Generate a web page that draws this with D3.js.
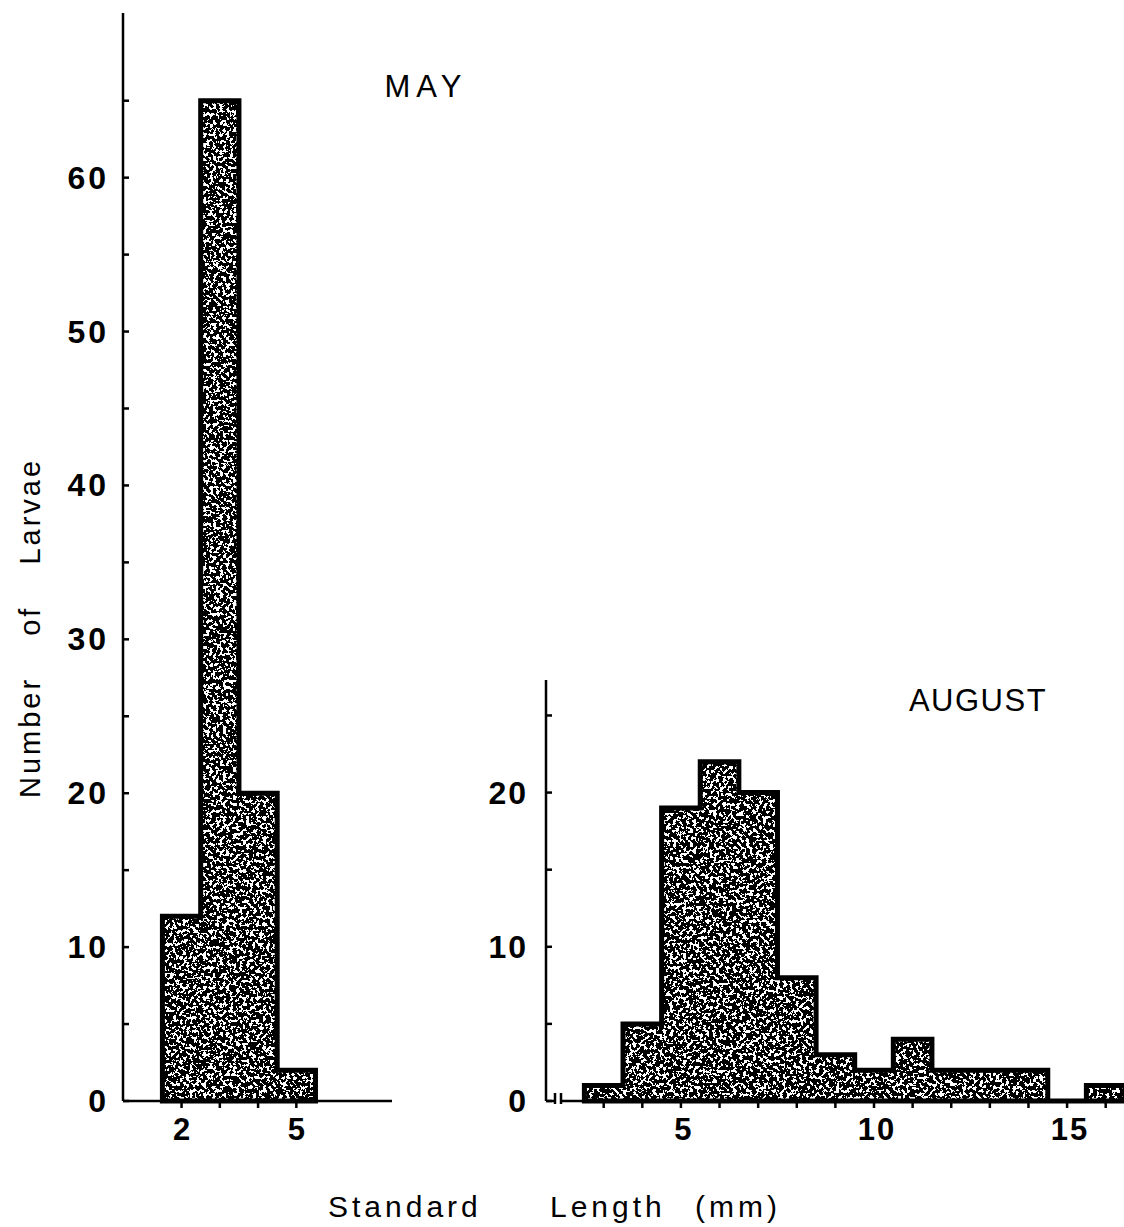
<!DOCTYPE html>
<html>
<head>
<meta charset="utf-8">
<script src="https://cdn.jsdelivr.net/npm/d3@7"></script>
<style>
  body { margin: 0; background: #fff; }
  svg text { font-family: "Liberation Sans", Arial, Helvetica, sans-serif; fill: #000; }
</style>
</head>
<body>
<div id="chart"></div>
<script>
var width = 1124,
    height = 1227;

// May sample: length classes (mm) and counts
var maySizes = [2, 3, 4, 5];
var mayCounts = [12, 65, 20, 2];
var mayYTicks = [0, 10, 20, 30, 40, 50, 60];
var mayYMinor = [5, 15, 25, 35, 45, 55, 65];
var mayXTicks = [2, 3, 4, 5];
var mayXLabels = [2, 5];

// August sample
var augSizes = [3, 4, 5, 6, 7, 8, 9, 10, 11, 12, 13, 14, 15, 16];
var augCounts = [1, 5, 19, 22, 20, 8, 3, 2, 4, 2, 2, 2, 0, 1];
var augYTicks = [0, 10, 20];
var augYMinor = [5, 15, 25];
var augXTicks = [3, 4, 5, 6, 7, 8, 9, 10, 11, 12, 13, 14, 15, 16];
var augXLabels = [5, 10, 15];

var xTitleWords = ["Standard", "Length", "(mm)"];

var svg = d3.select("#chart").append("svg")
    .attr("width", width)
    .attr("height", height);

// stippled fill like the printed halftone
var defs = svg.append("defs");
var filter = defs.append("filter")
    .attr("id", "speckle")
    .attr("filterUnits", "userSpaceOnUse")
    .attr("x", 0).attr("y", 0)
    .attr("width", width).attr("height", height)
    .attr("color-interpolation-filters", "sRGB");
filter.append("feTurbulence")
    .attr("type", "fractalNoise")
    .attr("baseFrequency", 0.3)
    .attr("numOctaves", 3)
    .attr("seed", 7)
    .attr("result", "noise");
filter.append("feColorMatrix")
    .attr("in", "noise")
    .attr("type", "matrix")
    .attr("values", "0 0 0 0 0  0 0 0 0 0  0 0 0 0 0  1 0 0 0 0")
    .attr("result", "a");
filter.append("feComponentTransfer")
    .attr("in", "a")
    .attr("result", "dots")
    .append("feFuncA")
    .attr("type", "discrete")
    .attr("tableValues", "1 1 1 1 1 1 1 1 1 1 1 0 0 0 0 0 0 0 0 0");
filter.append("feComposite")
    .attr("in", "dots")
    .attr("in2", "SourceGraphic")
    .attr("operator", "in");

var xMay = d3.scaleLinear().domain([0.47, 7.5]).range([123, 392]);
var yMay = d3.scaleLinear().domain([0, 70.7]).range([1101, 13]);

var xAug = d3.scaleLinear().domain([1.92, 16.5]).range([562, 1125]);
var yAug = d3.scaleLinear().domain([0, 27.3]).range([1101, 680]);

function histOutline(sizes, counts, x, y) {
    var pts = [[x(sizes[0] - 0.5), y(0)]];
    sizes.forEach(function (s, i) {
        pts.push([x(s - 0.5), y(counts[i])]);
        pts.push([x(s + 0.5), y(counts[i])]);
    });
    pts.push([x(sizes[sizes.length - 1] + 0.5), y(0)]);
    return d3.line()(pts) + "Z";
}

function drawHist(sizes, counts, x, y) {
    var d = histOutline(sizes, counts, x, y);
    var g = svg.append("g");
    g.append("path")
        .attr("d", d)
        .attr("fill", "#000")
        .attr("filter", "url(#speckle)");
    g.append("path")
        .attr("d", d)
        .attr("fill", "none")
        .attr("stroke", "#000")
        .attr("stroke-width", 5)
        .attr("stroke-linejoin", "miter");
}

drawHist(maySizes, mayCounts, xMay, yMay);
drawHist(augSizes, augCounts, xAug, yAug);

// ----- May axes
var axMay = svg.append("g").attr("stroke", "#000").attr("stroke-width", 2.5);
axMay.append("line")
    .attr("x1", xMay(0.47)).attr("x2", xMay(0.47))
    .attr("y1", yMay(70.7)).attr("y2", yMay(0));
axMay.append("line")
    .attr("x1", xMay(0.47)).attr("x2", xMay(7.5))
    .attr("y1", yMay(0)).attr("y2", yMay(0));
axMay.selectAll(".ytick")
    .data(mayYTicks.concat(mayYMinor))
    .enter().append("line")
    .attr("x1", xMay(0.47)).attr("x2", xMay(0.47) + 6)
    .attr("y1", function (d) { return yMay(d); })
    .attr("y2", function (d) { return yMay(d); });
axMay.selectAll(".xtick")
    .data(mayXTicks)
    .enter().append("line")
    .attr("x1", function (d) { return xMay(d); })
    .attr("x2", function (d) { return xMay(d); })
    .attr("y1", yMay(0)).attr("y2", yMay(0) + 7);

svg.selectAll(".mayYLab")
    .data(mayYTicks)
    .enter().append("text")
    .attr("x", 109)
    .attr("y", function (d) { return yMay(d) + 11; })
    .attr("text-anchor", "end")
    .style("font-size", "32px")
    .style("font-weight", "bold")
    .style("letter-spacing", "3px")
    .text(function (d) { return d; });

svg.selectAll(".mayXLab")
    .data(mayXLabels)
    .enter().append("text")
    .attr("x", function (d) { return xMay(d); })
    .attr("y", 1140)
    .attr("text-anchor", "middle")
    .style("font-size", "31px")
    .style("font-weight", "bold")
    .text(function (d) { return d; });

// ----- August axes
var axAug = svg.append("g").attr("stroke", "#000").attr("stroke-width", 2.5);
axAug.append("line")
    .attr("x1", 546).attr("x2", 546)
    .attr("y1", yAug(27.3)).attr("y2", yAug(0));
axAug.append("line")
    .attr("x1", 546).attr("x2", 555)
    .attr("y1", yAug(0)).attr("y2", yAug(0));
// axis break marks
axAug.selectAll(".brk")
    .data([555, 561])
    .enter().append("line")
    .attr("x1", function (d) { return d; }).attr("x2", function (d) { return d; })
    .attr("y1", yAug(0) - 8).attr("y2", yAug(0) + 3);
axAug.append("line")
    .attr("x1", xAug(1.92)).attr("x2", xAug(16.5))
    .attr("y1", yAug(0)).attr("y2", yAug(0));
axAug.selectAll(".ytick")
    .data(augYTicks.concat(augYMinor))
    .enter().append("line")
    .attr("x1", 546).attr("x2", 552)
    .attr("y1", function (d) { return yAug(d); })
    .attr("y2", function (d) { return yAug(d); });
axAug.selectAll(".xtick")
    .data(augXTicks)
    .enter().append("line")
    .attr("x1", function (d) { return xAug(d); })
    .attr("x2", function (d) { return xAug(d); })
    .attr("y1", yAug(0)).attr("y2", yAug(0) + 7);

svg.selectAll(".augYLab")
    .data(augYTicks)
    .enter().append("text")
    .attr("x", 528)
    .attr("y", function (d) { return yAug(d) + 11; })
    .attr("text-anchor", "end")
    .style("font-size", "32px")
    .style("font-weight", "bold")
    .style("letter-spacing", "2px")
    .text(function (d) { return d; });

svg.selectAll(".augXLab")
    .data(augXLabels)
    .enter().append("text")
    .attr("x", function (d) { return xAug(d) + 3; })
    .attr("y", 1140)
    .attr("text-anchor", "middle")
    .style("font-size", "31px")
    .style("font-weight", "bold")
    .style("letter-spacing", "2px")
    .text(function (d) { return d; });

// ----- titles and axis labels
svg.append("text")
    .attr("x", 426).attr("y", 97)
    .attr("text-anchor", "middle")
    .style("font-size", "31px")
    .style("letter-spacing", "6px")
    .text("MAY");

svg.append("text")
    .attr("x", 978).attr("y", 711)
    .attr("text-anchor", "middle")
    .style("font-size", "31px")
    .style("letter-spacing", "1.5px")
    .text("AUGUST");

svg.append("text")
    .attr("transform", "translate(40,628) rotate(-90)")
    .attr("text-anchor", "middle")
    .style("font-size", "29px")
    .style("letter-spacing", "3px")
    .style("word-spacing", "30px")
    .text("Number of Larvae");

// x title words were set with wide, uneven gaps
var xTitleX = [328, 550, 695];
svg.selectAll(".xtitle")
    .data(xTitleWords)
    .enter().append("text")
    .attr("x", function (d, i) { return xTitleX[i]; })
    .attr("y", 1217)
    .style("font-size", "30px")
    .style("letter-spacing", "4px")
    .text(function (d) { return d; });
</script>
</body>
</html>
